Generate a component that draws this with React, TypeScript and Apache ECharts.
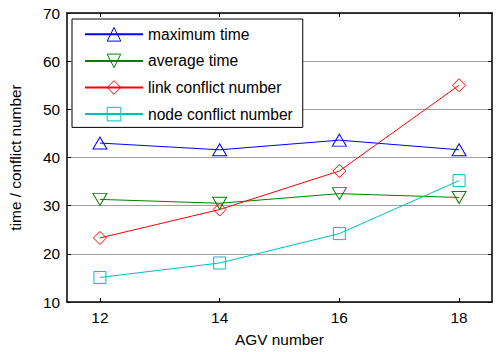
import React, { useEffect, useRef } from "react";
import * as echarts from "echarts";

const agvNumbers = [12, 14, 16, 18];
const maximumTime = [43.0, 41.6, 43.6, 41.6];
const averageTime = [31.3, 30.5, 32.5, 31.7];
const linkConflict = [23.3, 29.2, 37.2, 55.0];
const nodeConflict = [15.1, 18.1, 24.2, 35.2];
const xTicks = [12, 14, 16, 18];
const seriesNames = ["maximum time", "average time", "link conflict number", "node conflict number"];

const FONT = "'Liberation Sans', Arial, sans-serif";

function pairs(vals: number[]) {
  return agvNumbers.map((x, i) => [x, vals[i]]);
}

export default function App() {
  const ref = useRef<HTMLDivElement>(null);
  useEffect(() => {
    if (!ref.current) return;
    const chart = echarts.init(ref.current, null, { renderer: "svg" });
    const mk = (name: string, vals: number[], color: string, symbol: string, size: any, rotate = 0) => ({
      name,
      type: "line",
      data: pairs(vals),
      symbol,
      symbolSize: size,
      symbolRotate: rotate,
      color,
      lineStyle: { color, width: 1 },
      itemStyle: { color: "none", borderColor: color, borderWidth: 1 },
      z: 3,
    });
    const axisLine = { show: true, onZero: false, lineStyle: { color: "#000", width: 1.5 } };
    chart.setOption({
      animation: false,
      backgroundColor: "#fff",
      grid: { left: 60, top: 13, right: 4, bottom: 46, containLabel: false },
      legend: {
        orient: "vertical",
        left: 72,
        top: 19,
        itemWidth: 58,
        itemHeight: 17,
        itemGap: 8,
        padding: [6, 10, 4, 12],
        borderColor: "#000",
        borderWidth: 1,
        backgroundColor: "#fff",
        itemStyle: { borderWidth: 1 },
        textStyle: { fontFamily: FONT, fontSize: 15.6, color: "#000" },
        data: seriesNames,
        z: 10,
      },
      xAxis: [
        {
          type: "value",
          min: 11.45,
          max: 18.55,
          position: "bottom",
          name: "AGV number",
          nameLocation: "middle",
          nameGap: 30,
          nameTextStyle: { fontFamily: FONT, fontSize: 15.4, color: "#000" },
          axisLine,
          axisTick: { show: true, inside: true, length: 4, customValues: xTicks, lineStyle: { color: "#000" } },
          axisLabel: { customValues: xTicks, fontFamily: FONT, fontSize: 15.4, color: "#000", margin: 8 },
          splitLine: { show: false },
        },
        {
          type: "value",
          min: 11.45,
          max: 18.55,
          position: "top",
          axisLine,
          axisTick: { show: true, inside: true, length: 4, customValues: xTicks, lineStyle: { color: "#000" } },
          axisLabel: { show: false },
          splitLine: { show: false },
        },
      ],
      yAxis: [
        {
          type: "value",
          min: 10,
          max: 70,
          interval: 10,
          position: "left",
          name: "time / conflict number",
          nameLocation: "middle",
          nameGap: 44,
          nameTextStyle: { fontFamily: FONT, fontSize: 15.4, color: "#000" },
          axisLine,
          axisTick: { show: true, inside: true, length: 4, lineStyle: { color: "#000" } },
          axisLabel: { fontFamily: FONT, fontSize: 15.4, color: "#000", margin: 7 },
          splitLine: { show: true, lineStyle: { color: "#a0a0a0", width: 1 } },
        },
        {
          type: "value",
          min: 10,
          max: 70,
          interval: 10,
          position: "right",
          axisLine,
          axisTick: { show: true, inside: true, length: 4, lineStyle: { color: "#000" } },
          axisLabel: { show: false },
          splitLine: { show: false },
        },
      ],
      series: [
        mk(seriesNames[0], maximumTime, "#0000ff", "triangle", [14, 12]),
        mk(seriesNames[1], averageTime, "#008000", "triangle", [14, 12], 180),
        mk(seriesNames[2], linkConflict, "#ff0000", "diamond", [13, 13]),
        mk(seriesNames[3], nodeConflict, "#00bfbf", "rect", [12, 12]),
      ],
    });
    return () => chart.dispose();
  }, []);
  return <div ref={ref} style={{ position: "fixed", left: 0, top: 0, width: 496, height: 352 }} />;
}
